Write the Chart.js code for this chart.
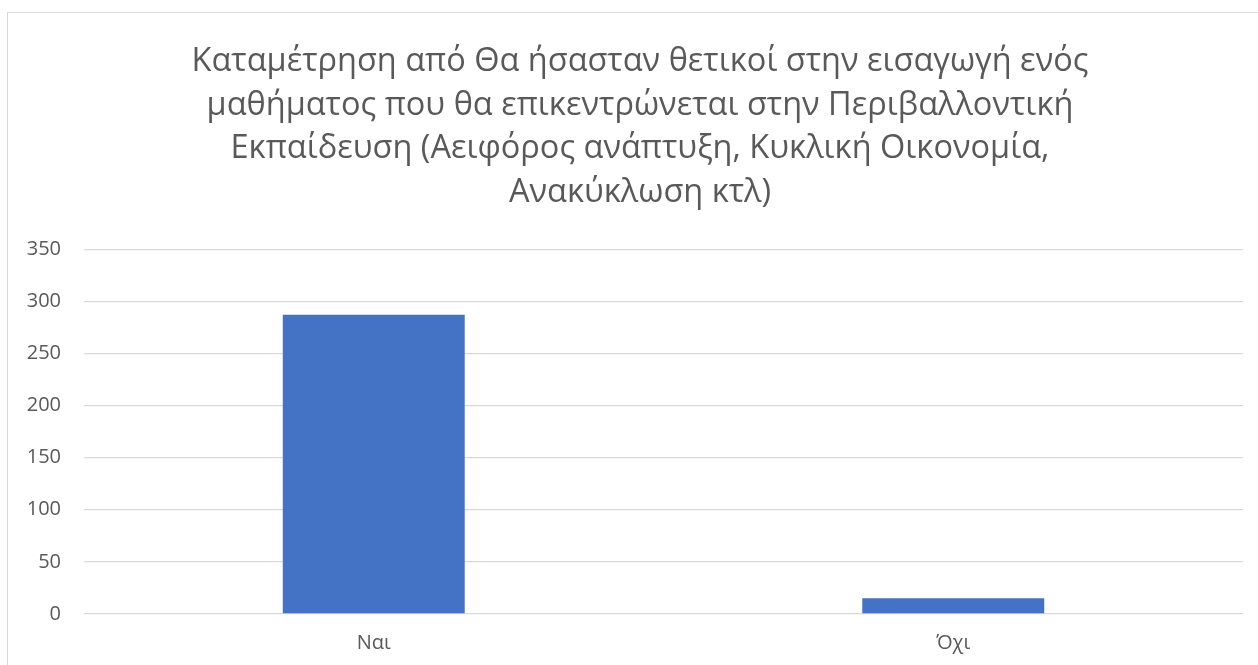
<!DOCTYPE html>
<html>
<head>
<meta charset="utf-8">
<script src="https://cdn.jsdelivr.net/npm/chart.js@4.4.1/dist/chart.umd.min.js"></script>
<style>
  html, body { margin: 0; padding: 0; background: #fff; overflow: hidden; }
  #box {
    position: absolute; left: 7px; top: 12px;
    width: 1266px; height: 670px;
    border: 1px solid #d9d9d9; box-sizing: border-box;
  }
  #wrap { position: absolute; left: 0; top: 0; width: 1264px; height: 653px; }
</style>
</head>
<body>
<div id="box"><div id="wrap"><canvas id="myChart"></canvas></div></div>
<script>
// DATA
const categories = ["Ναι", "Όχι"];
const counts = [287, 15];
const titleLines = [
    "Καταμέτρηση από Θα ήσασταν θετικοί στην εισαγωγή ενός",
    "μαθήματος που θα επικεντρώνεται στην Περιβαλλοντική",
    "Εκπαίδευση (Αειφόρος ανάπτυξη, Κυκλική Οικονομία,",
    "Ανακύκλωση κτλ)"
];
const yMax = 350;
const yStep = 50;

const textGrey = "#595959";
const font = "'Open Sans', 'Noto Sans', sans-serif";

const data1 = {
    labels: categories,
    datasets: [
        {
            label: "Σύνολο",
            data: counts,
            backgroundColor: "#4472c4",
            borderWidth: 0,
            barPercentage: 0.314,
            categoryPercentage: 1.0
        }
    ]
};

const configbar = {
    type: "bar",
    data: data1,
    options: {
        responsive: true,
        maintainAspectRatio: false,
        animation: false,
        layout: { padding: { bottom: 2 } },
        plugins: {
            legend: { display: false },
            tooltip: { enabled: false },
            title: {
                display: true,
                text: titleLines,
                color: textGrey,
                font: { family: font, size: 32.5, weight: "normal", lineHeight: 1.34 },
                padding: { top: 27, bottom: 35 }
            }
        },
        scales: {
            x: {
                grid: { display: false },
                border: { display: false },
                ticks: { color: textGrey, font: { family: font, size: 20 }, padding: 9 }
            },
            y: {
                min: 0,
                max: yMax,
                ticks: {
                    stepSize: yStep,
                    color: textGrey,
                    font: { family: font, size: 20 },
                    padding: 23
                },
                grid: { color: "#d9d9d9", lineWidth: 1.3, drawTicks: false },
                border: { display: false },
                afterFit: (scale) => { scale.width = 76; }
            },
            // empty strip on the right so the title stays centred on the whole box
            yRight: {
                position: "right",
                display: true,
                grid: { display: false },
                border: { display: false },
                ticks: { display: false },
                afterFit: (scale) => { scale.width = 29; }
            }
        }
    }
};

var myChart = new Chart(document.querySelector("#myChart"), configbar);
</script>
</body>
</html>
